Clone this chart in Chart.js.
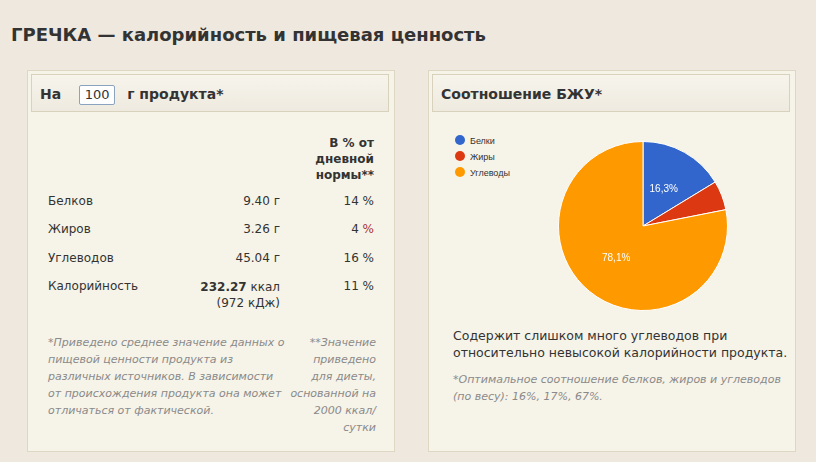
<!DOCTYPE html>
<html><head><meta charset="utf-8">
<script src="https://cdn.jsdelivr.net/npm/chart.js@4"></script>
<style>
body{margin:0;background:#efe8df;font-family:"DejaVu Sans",Verdana,sans-serif;color:#333;width:816px;height:462px;overflow:hidden;position:relative}
.t{position:absolute;left:11px;top:24px;font-size:18px;font-weight:bold;color:#333}
.p{position:absolute;top:70px;width:366px;height:380px;background:#f6f3e8;border:1px solid #ddd7c3}
.h{position:absolute;left:3px;top:3px;width:358px;height:38px;border:1px solid #d8d1bc;background:linear-gradient(#f7f4ec,#eeeadf);font-size:14px;font-weight:bold;line-height:38px;box-sizing:border-box;padding-left:8px}
.a{position:absolute;font-size:12px;white-space:nowrap}
.r{text-align:right}
.n{font-size:11px;font-style:italic;color:#8a8a8a;position:absolute;line-height:17px}
.inp{display:inline-block;width:34px;height:18px;border:1px solid #8aa4c0;border-radius:2px;background:#fff;font-weight:normal;text-align:center;line-height:18px;font-size:13px;margin:0 12px 0 18px;vertical-align:middle}
.lg{position:absolute;left:455px;font-size:9px;font-family:Arial,"Liberation Sans",sans-serif}
.lg i{display:inline-block;width:10px;height:10px;border-radius:50%;margin-right:5px;vertical-align:-1px}
</style></head><body>
<div class="t">ГРЕЧКА — калорийность и пищевая ценность</div>
<div class="p" style="left:27px">
 <div class="h" style="font-size:14px">На<span class="inp">100</span>г продукта*</div>
</div>
<div class="a r" style="left:290px;top:135px;width:84px;font-weight:bold;font-size:12px;line-height:16px">В % от<br>дневной<br>нормы**</div>
<div class="a" style="left:48px;top:194px">Белков</div><div class="a r" style="left:180px;width:100px;top:194px">9.40 г</div><div class="a r" style="left:300px;width:74px;top:194px">14 %</div>
<div class="a" style="left:48px;top:222px">Жиров</div><div class="a r" style="left:180px;width:100px;top:222px">3.26 г</div><div class="a r" style="left:300px;width:74px;top:222px">4 <span style="color:#a33">%</span></div>
<div class="a" style="left:48px;top:251px">Углеводов</div><div class="a r" style="left:180px;width:100px;top:251px">45.04 г</div><div class="a r" style="left:300px;width:74px;top:251px">16 %</div>
<div class="a" style="left:48px;top:279px">Калорийность</div><div class="a r" style="left:150px;width:130px;top:279px;line-height:16px"><b>232.27</b> ккал<br>(972 кДж)</div><div class="a r" style="left:300px;width:74px;top:279px">11 %</div>
<div class="n" style="left:48px;top:334px;width:240px">*Приведено среднее значение данных о пищевой ценности продукта из различных источников. В зависимости от происхождения продукта она может отличаться от фактической.</div>
<div class="n r" style="left:290px;top:334px;width:86px">**Значение приведено для диеты, основанной на 2000 ккал/ сутки</div>
<div class="p" style="left:428px">
 <div class="h">Соотношение БЖУ*</div>
</div>
<div id="lg"></div>
<div style="position:absolute;left:548px;top:131px;width:190px;height:190px"><canvas id="c"></canvas></div>
<div class="a" style="left:453px;top:327px;font-size:12.5px;line-height:17px;color:#333">Содержит слишком много углеводов при<br>относительно невысокой калорийности продукта.</div>
<div class="n" style="left:453px;top:371px;width:330px;font-size:11px">*Оптимальное соотношение белков, жиров и углеводов (по весу): 16%, 17%, 67%.</div>
<script>
const categories=["Белки","Жиры","Углеводы"];
const values=[16.3,5.6,78.1];
const colors=["#3366cc","#dc3912","#ff9900"];
const lg=document.getElementById('lg');
categories.forEach((c,i)=>{const d=document.createElement('div');d.className='lg';d.style.top=(135+i*16)+'px';d.innerHTML='<i style="background:'+colors[i]+'"></i>'+c;lg.appendChild(d);});
const lbl={id:'lbl',afterDatasetsDraw(ch){const ctx=ch.ctx;ch.getDatasetMeta(0).data.forEach((a,i)=>{if(values[i]<10)return;const p=a.tooltipPosition();ctx.save();ctx.fillStyle='#fff';ctx.font='10px Arial, "Liberation Sans"';ctx.textAlign='center';ctx.textBaseline='middle';ctx.fillText(values[i].toFixed(1).replace('.',',')+'%',p.x,p.y);ctx.restore();});}};
new Chart(document.getElementById('c'),{type:'pie',data:{labels:categories,datasets:[{data:values,backgroundColor:colors,borderColor:'#fff',borderWidth:1}]},
options:{responsive:true,maintainAspectRatio:false,animation:false,layout:{padding:10},plugins:{legend:{display:false},tooltip:{enabled:false}}},plugins:[lbl]});
</script>
</body></html>
